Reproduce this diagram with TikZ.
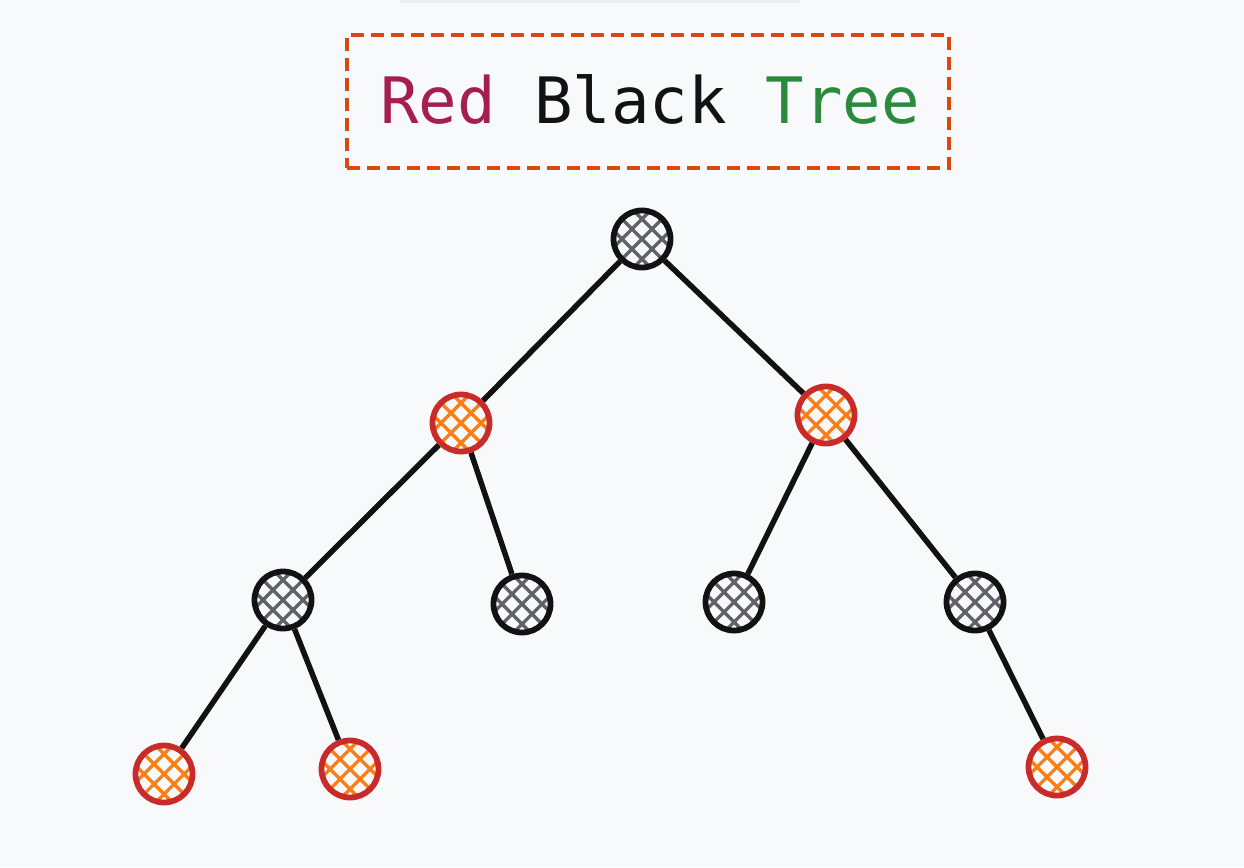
\documentclass[tikz,border=0pt]{standalone}
\usepackage{fontspec}
\newfontfamily\monof{DejaVu Sans Mono}
\definecolor{bg}{HTML}{F8F9FB}
\definecolor{topbar}{HTML}{ECEEF1}
\definecolor{ink}{HTML}{121212}
\definecolor{rbred}{HTML}{C92A2A}
\definecolor{hatchgray}{HTML}{5F6268}
\definecolor{hatchorange}{HTML}{FD7E14}
\definecolor{rbpink}{HTML}{A61E4D}
\definecolor{rbgreen}{HTML}{2B8A3E}
\definecolor{dashcol}{HTML}{D9480F}
\begin{document}
\begin{tikzpicture}[x=1pt,y=-1pt,
  hatch/.style={path picture={
    \foreach \k in {-3,...,3}{
      \draw[draw=#1,line width=3.2pt] ([shift={(\k*20pt-45pt,-45pt)}]path picture bounding box.center) -- ++(90pt,90pt);
      \draw[draw=#1,line width=3.2pt] ([shift={(\k*20pt-45pt,45pt)}]path picture bounding box.center) -- ++(90pt,-90pt);
    }}},
  bnode/.style={circle,minimum size=57pt,inner sep=0pt,draw=ink,line width=5.8pt,fill=bg,hatch=hatchgray},
  rnode/.style={circle,minimum size=57pt,inner sep=0pt,draw=rbred,line width=5.8pt,fill=bg,hatch=hatchorange},
  link/.style={draw=ink,line width=5.5pt}]
\useasboundingbox (0,0) rectangle (1244,867);
\fill[bg] (0,0) rectangle (1244,867);
\fill[topbar] (400,0) rectangle (800,3);
% title
\node[draw=dashcol,line width=3.8pt,dash pattern=on 13pt off 7pt,minimum width=602pt,minimum height=133pt,inner sep=0pt] (box) at (648,101.5) {};
\node[font=\monof\fontsize{64}{64}\selectfont,anchor=base,inner sep=0pt] (title) at (650,123) {\textcolor{rbpink}{Red} \textcolor{ink}{Black} \textcolor{rbgreen}{Tree}};
% nodes
\node[bnode] (r) at (642,239) {};
\node[rnode] (a) at (461,423) {};
\node[rnode] (b) at (826,415) {};
\node[bnode] (aa) at (283,600) {};
\node[bnode] (ab) at (522,604) {};
\node[bnode] (ba) at (734,602) {};
\node[bnode] (bb) at (975,602) {};
\node[rnode] (aaa) at (164,774) {};
\node[rnode] (aab) at (350,769) {};
\node[rnode] (bbb) at (1057,767) {};
% edges
\draw[link] (r) -- (a);
\draw[link] (r) -- (b);
\draw[link] (a) -- (aa);
\draw[link] (a) -- (ab);
\draw[link] (b) -- (ba);
\draw[link] (b) -- (bb);
\draw[link] (aa) -- (aaa);
\draw[link] (aa) -- (aab);
\draw[link] (bb) -- (bbb);
\end{tikzpicture}
\end{document}
